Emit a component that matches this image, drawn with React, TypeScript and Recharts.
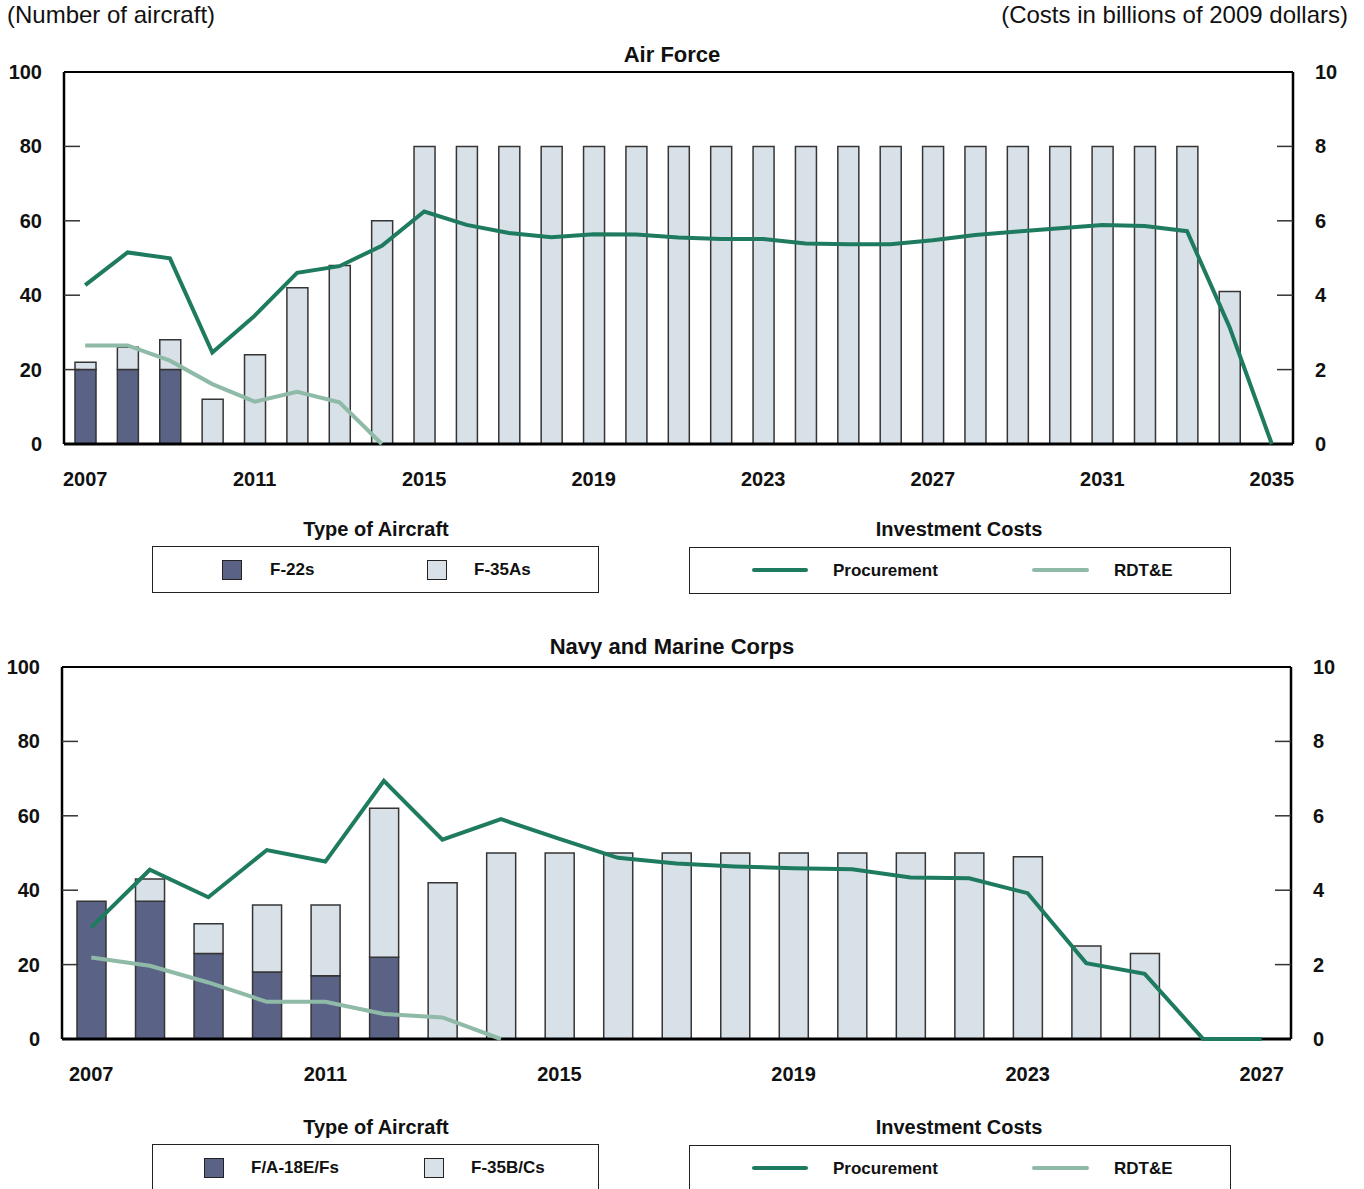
import React from 'react';
import { ComposedChart, Bar, Line, XAxis, YAxis, ReferenceLine } from 'recharts';

const FONT = "'Liberation Sans', Arial, sans-serif";
const DARK_BAR = '#5a6386';
const LIGHT_BAR = '#d9e1e8';
const BAR_EDGE = '#353535';
const PROC = '#1f7b5f';
const RDTE = '#8fbaa7';

// Air Force
const afYears = [
  '2007', '2008', '2009', '2010', '2011', '2012', '2013', '2014', '2015', '2016',
  '2017', '2018', '2019', '2020', '2021', '2022', '2023', '2024', '2025', '2026',
  '2027', '2028', '2029', '2030', '2031', '2032', '2033', '2034', '2035',
];
const f22s = [20, 20, 20, null, null, null, null, null, null, null, null, null, null, null, null, null, null, null, null, null, null, null, null, null, null, null, null, null, null];
const f35As = [2, 6, 8, 12, 24, 42, 48, 60, 80, 80, 80, 80, 80, 80, 80, 80, 80, 80, 80, 80, 80, 80, 80, 80, 80, 80, 80, 41, null];
const afProcurement = [4.27, 5.15, 4.99, 2.46, 3.45, 4.6, 4.78, 5.33, 6.25, 5.89, 5.67, 5.56, 5.64, 5.63, 5.55, 5.51, 5.51, 5.39, 5.37, 5.37, 5.48, 5.62, 5.71, 5.8, 5.89, 5.86, 5.72, 3.15, 0];
const afRdte = [2.65, 2.65, 2.24, 1.61, 1.14, 1.4, 1.12, 0, null, null, null, null, null, null, null, null, null, null, null, null, null, null, null, null, null, null, null, null, null];

// Navy and Marine Corps
const navyYears = [
  '2007', '2008', '2009', '2010', '2011', '2012', '2013', '2014', '2015', '2016',
  '2017', '2018', '2019', '2020', '2021', '2022', '2023', '2024', '2025', '2026', '2027',
];
const fa18s = [37, 37, 23, 18, 17, 22, null, null, null, null, null, null, null, null, null, null, null, null, null, null, null];
const f35BCs = [null, 6, 8, 18, 19, 40, 42, 50, 50, 50, 50, 50, 50, 50, 50, 50, 49, 25, 23, null, null];
const navyProcurement = [3.0, 4.55, 3.81, 5.08, 4.77, 6.94, 5.36, 5.91, 5.38, 4.87, 4.72, 4.64, 4.59, 4.56, 4.34, 4.32, 3.92, 2.04, 1.75, 0, 0];
const navyRdte = [2.19, 1.97, 1.52, 1.0, 1.0, 0.67, 0.58, 0, null, null, null, null, null, null, null, null, null, null, null, null, null];

const countTicks = [0, 20, 40, 60, 80, 100];
const costTicks = [0, 2, 4, 6, 8, 10];

const afData = afYears.map((year, i) => ({
  year, low: f22s[i], high: f35As[i], proc: afProcurement[i], rdte: afRdte[i],
}));
const navyData = navyYears.map((year, i) => ({
  year, low: fa18s[i], high: f35BCs[i], proc: navyProcurement[i], rdte: navyRdte[i],
}));

const GAP = 22;

const makeYTick = (side: 'left' | 'right', top: number) => (props: any) => {
  const { x, y, payload } = props;
  const v = payload.value;
  const edge = side === 'left' ? x + GAP : x - GAP;
  const inner = side === 'left' ? edge + 16 : edge - 16;
  const showLine = v !== 0 && v !== top;
  return (
    <g>
      {showLine && <line x1={edge} x2={inner} y1={y} y2={y} stroke="#333" strokeWidth={1.5} />}
      <text
        x={x}
        y={y}
        textAnchor={side === 'left' ? 'end' : 'start'}
        dominantBaseline="central"
        fontFamily={FONT}
        fontWeight="bold"
        fontSize={20}
        fill="#111"
      >
        {v}
      </text>
    </g>
  );
};

const XTick = (props: any) => {
  const { x, y, payload } = props;
  return (
    <text x={x} y={y} textAnchor="middle" dominantBaseline="central" fontFamily={FONT} fontWeight="bold" fontSize={20} fill="#111">
      {payload.value}
    </text>
  );
};

type PanelProps = {
  data: any[];
  top: number;
  left: number;
  right: number;
  barSize: number;
};

const Panel = ({ data, top, left, right, barSize }: PanelProps) => (
  <div style={{ position: 'absolute', left: 0, top, width: 1364, height: 500 }}>
    <ComposedChart width={1364} height={500} data={data} margin={{ top: 72, right, bottom: 6, left }}>
      <XAxis
        dataKey="year"
        interval={3}
        tickSize={0}
        tickMargin={35}
        tick={XTick}
        height={50}
        axisLine={{ stroke: '#000', strokeWidth: 3 }}
      />
      <YAxis
        yAxisId="left"
        orientation="left"
        domain={[0, 100]}
        ticks={countTicks}
        width={56}
        tickSize={0}
        tickMargin={GAP}
        tick={makeYTick('left', 100)}
        axisLine={{ stroke: '#000', strokeWidth: 2.5 }}
      />
      <YAxis
        yAxisId="right"
        orientation="right"
        domain={[0, 10]}
        ticks={costTicks}
        width={60}
        tickSize={0}
        tickMargin={GAP}
        tick={makeYTick('right', 10)}
        axisLine={{ stroke: '#000', strokeWidth: 2.5 }}
      />
      <ReferenceLine yAxisId="left" y={100} stroke="#000" strokeWidth={2} />
      <Bar yAxisId="left" dataKey="low" stackId="a" barSize={barSize} fill={DARK_BAR} stroke={BAR_EDGE} strokeWidth={1.5} isAnimationActive={false} />
      <Bar yAxisId="left" dataKey="high" stackId="a" barSize={barSize} fill={LIGHT_BAR} stroke={BAR_EDGE} strokeWidth={1.5} isAnimationActive={false} />
      <Line yAxisId="right" type="linear" dataKey="rdte" stroke={RDTE} strokeWidth={4} dot={false} isAnimationActive={false} {...({ zIndex: 700 } as any)} />
      <Line yAxisId="right" type="linear" dataKey="proc" stroke={PROC} strokeWidth={4} dot={false} isAnimationActive={false} {...({ zIndex: 710 } as any)} />
    </ComposedChart>
  </div>
);

const Txt = ({ x, y, children, size = 20, bold = true, align = 'left' }: any) => {
  const w = 500;
  const l = align === 'center' ? x - w / 2 : align === 'right' ? x - w : x;
  return (
    <div
      style={{
        position: 'absolute',
        left: l,
        top: y - 15,
        width: w,
        height: 30,
        lineHeight: '30px',
        textAlign: align,
        fontSize: size,
        fontWeight: bold ? 'bold' : 'normal',
        color: '#111',
        whiteSpace: 'nowrap',
      }}
    >
      {children}
    </div>
  );
};

const Box = ({ x, y, w, h }: any) => (
  <div style={{ position: 'absolute', left: x, top: y, width: w, height: h, border: '1.5px solid #222', boxSizing: 'border-box' }} />
);

const Swatch = ({ x, y, color }: any) => (
  <div style={{ position: 'absolute', left: x, top: y, width: 20, height: 20, background: color, border: '1.5px solid #222', boxSizing: 'border-box' }} />
);

const LineKey = ({ x, y, w, color }: any) => (
  <div style={{ position: 'absolute', left: x, top: y - 2, width: w, height: 4, background: color, borderRadius: 2 }} />
);

const Legends = ({ y0, names }: { y0: number; names: string[] }) => (
  <>
    <Txt x={376} y={y0} align="center" size={20}>Type of Aircraft</Txt>
    <Box x={152} y={y0 + 17} w={447} h={47} />
    <Swatch x={names[0] === 'F-22s' ? 222 : 204} y={y0 + 31} color={DARK_BAR} />
    <Txt x={names[0] === 'F-22s' ? 270 : 251} y={y0 + 41} size={17}>{names[0]}</Txt>
    <Swatch x={names[0] === 'F-22s' ? 427 : 424} y={y0 + 31} color={LIGHT_BAR} />
    <Txt x={names[0] === 'F-22s' ? 474 : 471} y={y0 + 41} size={17}>{names[1]}</Txt>

    <Txt x={959} y={y0} align="center" size={20}>Investment Costs</Txt>
    <Box x={689} y={y0 + 18} w={542} h={47} />
    <LineKey x={752} y={y0 + 41} w={56} color={PROC} />
    <Txt x={833} y={y0 + 42} size={17}>Procurement</Txt>
    <LineKey x={1032} y={y0 + 41} w={57} color={RDTE} />
    <Txt x={1114} y={y0 + 42} size={17}>RDT&amp;E</Txt>
  </>
);

export default function App() {
  return (
    <div style={{ position: 'absolute', left: 0, top: 0, width: 1364, height: 1189, overflow: 'hidden', background: '#fff', fontFamily: FONT }}>
      <Txt x={7} y={15} size={24} bold={false}>(Number of aircraft)</Txt>
      <Txt x={1348} y={15} size={24} bold={false} align="right">(Costs in billions of 2009 dollars)</Txt>

      <Txt x={672} y={55} align="center" size={22}>Air Force</Txt>
      <Panel data={afData} top={0} left={8} right={11} barSize={21} />
      <Legends y0={529} names={['F-22s', 'F-35As']} />

      <Txt x={672} y={647} align="center" size={22}>Navy and Marine Corps</Txt>
      <Panel data={navyData} top={595} left={6} right={13} barSize={29} />
      <Legends y0={1127} names={['F/A-18E/Fs', 'F-35B/Cs']} />
    </div>
  );
}
